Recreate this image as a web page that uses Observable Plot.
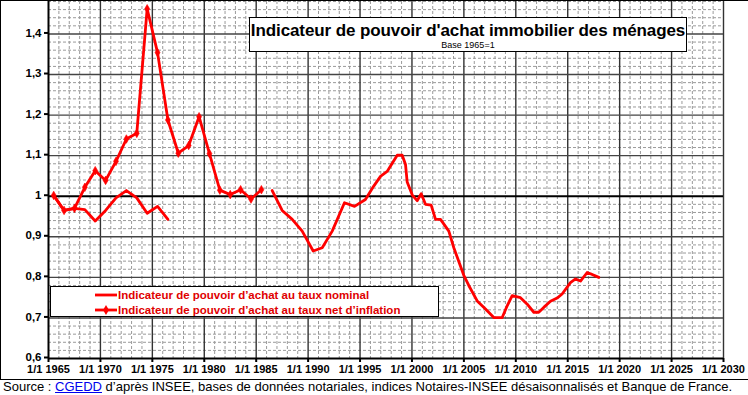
<!DOCTYPE html>
<html><head><meta charset="utf-8">
<script src="https://cdn.jsdelivr.net/npm/d3@7"></script>
<script src="https://cdn.jsdelivr.net/npm/@observablehq/plot@0.6"></script>
<style>
body{margin:0;background:#fff;font-family:Arial,"Liberation Sans",sans-serif;}
#wrap{position:relative;width:748px;height:395px;overflow:hidden;}
#frame{position:absolute;left:0;top:0;width:760px;height:380px;box-sizing:border-box;border:1px solid #000;pointer-events:none;}
#titlebox{position:absolute;left:249px;top:17px;width:438px;height:35px;box-sizing:border-box;border:1px solid #000;background:#fff;text-align:center;}
#titlebox .t{font-weight:bold;font-size:17px;line-height:18px;margin-top:4px;color:#000;letter-spacing:-0.1px;}
#titlebox .s{font-size:9px;line-height:10px;color:#000;}
#legend{position:absolute;left:50px;top:286px;width:389px;height:31px;box-sizing:border-box;border:1px solid #000;background:#fff;}
#legend .row{position:absolute;left:44px;height:14px;display:flex;align-items:center;color:#e00000;font-size:11.5px;font-weight:bold;}
#legend svg{margin-right:1px;}
#caption{position:absolute;left:3px;top:379px;font-size:13px;line-height:15px;color:#000;white-space:nowrap;}
#caption a{color:#0000ee;text-decoration:underline;}
</style>
</head><body>
<div id="wrap">
  <div id="chart"></div>
  <div id="frame"></div>
  <div id="titlebox"><div class="t">Indicateur de pouvoir d'achat immobilier des ménages</div><div class="s">Base 1965=1</div></div>
  <div id="legend"></div>
  <div id="caption">Source : <a>CGEDD</a> d’après INSEE, bases de données notariales, indices Notaires-INSEE désaisonnalisés et Banque de France.</div>
</div>
<script>
// ---- data ----
const seriesNames = [
  "Indicateur de pouvoir d’achat au taux nominal",
  "Indicateur de pouvoir d’achat au taux net d’inflation"
];
// annual values, plotted at mid-year
const netYears = [1965,1966,1967,1968,1969,1970,1971,1972,1973,1974,1975,1976,1977,1978,1979,1980,1981,1982,1983,1984,1985];
const netValues = [1.002,0.965,0.970,1.022,1.063,1.039,1.086,1.141,1.155,1.462,1.354,1.188,1.106,1.125,1.196,1.105,1.015,1.004,1.016,0.993,1.016];

const nominalEarlyYears = [1965,1966,1967,1968,1969,1970,1971,1972,1973,1974,1975,1976];
const nominalEarlyValues = [1.002,0.965,0.970,0.967,0.939,0.965,0.996,1.014,0.996,0.958,0.975,0.943];

// later, sub-annual values (decimal years)
const nominalLateYears = [1986.54,1987.50,1988.47,1989.43,1990.49,1991.36,1992.32,1993.50,1994.47,1995.52,1996.32,1996.97,1997.61,1998.58,1999.06,1999.38,1999.54,2000.05,2000.50,2000.89,2001.30,2001.85,2002.27,2002.75,2003.55,2004.03,2004.99,2005.47,2006.28,2007.08,2007.88,2008.69,2009.17,2009.65,2010.45,2011.10,2011.73,2012.21,2012.69,2013.34,2013.98,2014.46,2015.26,2015.75,2016.23,2016.87,2017.19,2017.99];
const nominalLateValues = [1.014,0.965,0.943,0.914,0.865,0.873,0.914,0.984,0.975,0.992,1.025,1.049,1.061,1.101,1.101,1.078,1.035,1.002,0.989,1.006,0.980,0.978,0.943,0.943,0.914,0.873,0.805,0.780,0.742,0.722,0.701,0.701,0.730,0.755,0.750,0.734,0.714,0.714,0.726,0.741,0.749,0.759,0.787,0.796,0.791,0.812,0.809,0.800];

const xTicks = [1965,1970,1975,1980,1985,1990,1995,2000,2005,2010,2015,2020,2025,2030];
const yTicks = [0.6,0.7,0.8,0.9,1.0,1.1,1.2,1.3,1.4];

// ---- build tables ----
const net = netYears.map((y,i)=>({x:y+0.5, v:netValues[i]}));
const nomEarly = nominalEarlyYears.map((y,i)=>({x:y+0.5, v:nominalEarlyValues[i]}));
const nomLate = nominalLateYears.map((y,i)=>({x:y, v:nominalLateValues[i]}));

const minorX = d3.range(1966,2030).filter(y=>y%5!==0);
const minorY = d3.range(31,75).filter(i=>i%5!==0).map(i=>i/50);
const majorX = xTicks.slice(1);
const majorY = yTicks.filter(v=>v!==0.6 && v!==1.0);
const RED = "#ff0000";

const fmtY = d => (Math.abs(d-1)<1e-9 ? "1" : d.toFixed(1).replace(".",","));

const chart = Plot.plot({
  width:748, height:380,
  marginLeft:48, marginRight:25, marginTop:1, marginBottom:22,
  style:{fontFamily:"Arial, 'Liberation Sans', sans-serif", fontSize:"11px", color:"#000", background:"transparent", overflow:"visible"},
  x:{type:"linear", domain:[1965,2030], label:null},
  y:{type:"linear", domain:[0.6,1.48], label:null},
  marks:[
    Plot.ruleX(minorX,{stroke:"#9a9a9a", strokeWidth:1, strokeDasharray:"3,2"}),
    Plot.ruleY(minorY,{stroke:"#9a9a9a", strokeWidth:1, strokeDasharray:"3,2"}),
    Plot.ruleX(majorX,{stroke:"#333", strokeWidth:1.4}),
    Plot.ruleY(majorY,{stroke:"#444", strokeWidth:1.4}),
    Plot.ruleY([1.0],{stroke:"#000", strokeWidth:2}),
    Plot.ruleY([0.6],{stroke:"#000", strokeWidth:2}),
    Plot.ruleX([1965],{stroke:"#000", strokeWidth:2}),
    Plot.axisX({ticks:xTicks, tickFormat:d=>"1/1 "+d, tickSize:4, tickPadding:3, fontWeight:"bold", fontSize:11, stroke:"#000", strokeWidth:2, label:null}),
    Plot.axisY({ticks:yTicks, tickFormat:fmtY, tickSize:4, tickPadding:3, fontWeight:"bold", fontSize:11.5, stroke:"#000", strokeWidth:2, label:null, dy:-1}),
    Plot.line(nomEarly,{x:"x", y:"v", stroke:RED, strokeWidth:2.8, strokeLinejoin:"round"}),
    Plot.line(nomLate,{x:"x", y:"v", stroke:RED, strokeWidth:2.8, strokeLinejoin:"round"}),
    Plot.line(net,{x:"x", y:"v", stroke:RED, strokeWidth:2.8, strokeLinejoin:"round"}),
    Plot.dot(net,{x:"x", y:"v", symbol:"diamond", r:2.6, fill:RED, stroke:RED, strokeWidth:0.6})
  ]
});
document.getElementById("chart").appendChild(chart);

// legend
const leg = document.getElementById("legend");
seriesNames.forEach((name,i)=>{
  const row = document.createElement("div");
  row.className="row";
  row.style.top = (i===0 ? 1 : 16) + "px";
  const sw = d3.create("svg").attr("width",22).attr("height",12);
  sw.append("line").attr("x1",0).attr("x2",22).attr("y1",6).attr("y2",6).attr("stroke",RED).attr("stroke-width",2.8);
  if(i===1) sw.append("path").attr("d",d3.symbol(d3.symbolDiamond,30)()).attr("transform","translate(11,6)").attr("fill",RED);
  row.appendChild(sw.node());
  const sp = document.createElement("span"); sp.textContent = name;
  row.appendChild(sp);
  leg.appendChild(row);
});
</script>
</body></html>
